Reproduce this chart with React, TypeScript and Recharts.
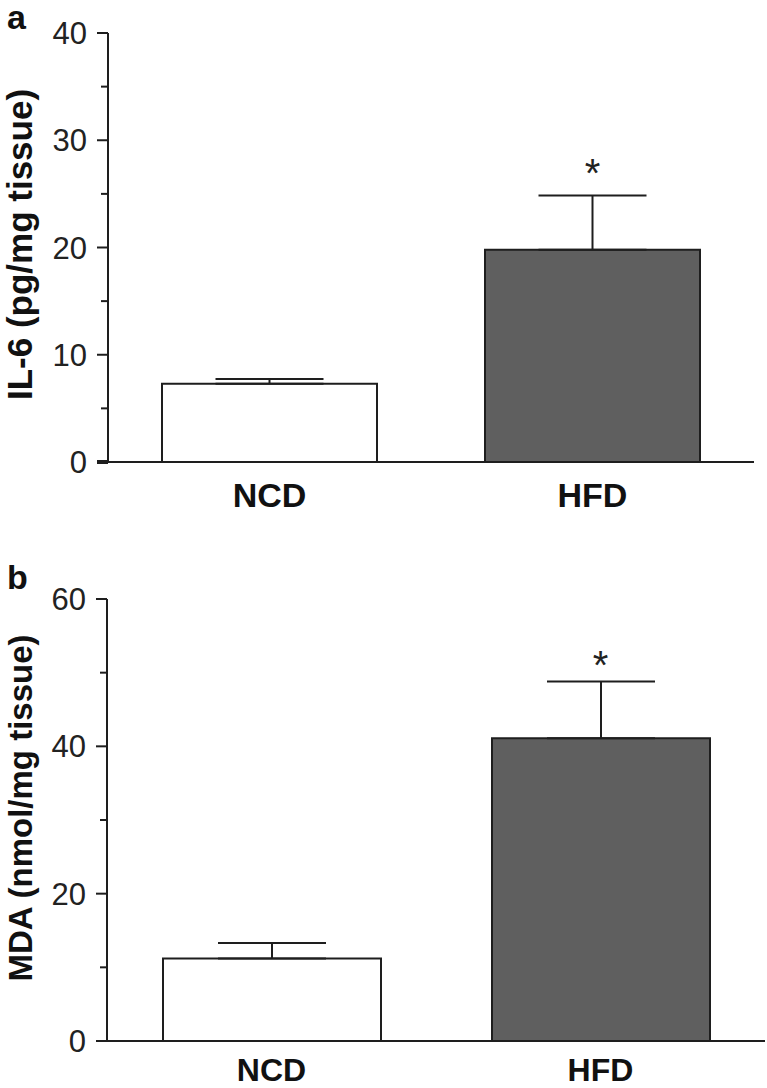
import React from "react";
import {
  BarChart,
  Bar,
  XAxis,
  YAxis,
  Cell,
  ErrorBar,
  ReferenceDot,
  Label,
} from "recharts";

const CATEGORIES = ["NCD", "HFD"];
const BAR_FILLS = ["#ffffff", "#5f5f5f"];
const SIGNIF = ["", "*"];

// panel a: IL-6 (pg/mg tissue), mean and upper error
const IL6_MEAN = [7.3, 19.8];
const IL6_ERR = [0.45, 5.05];
const IL6_TICKS = [0, 5, 10, 15, 20, 25, 30, 35, 40];
const IL6_LABELED = [0, 10, 20, 30, 40];

// panel b: MDA (nmol/mg tissue)
const MDA_MEAN = [11.2, 41.1];
const MDA_ERR = [2.1, 7.7];
const MDA_TICKS = [0, 10, 20, 30, 40, 50, 60];
const MDA_LABELED = [0, 20, 40, 60];

const FONT = "'Liberation Sans', Arial, Helvetica, sans-serif";
const INK = "#1e1e1e";

function YTick({ x, y, payload, labeled, heavyZero }: any) {
  const major = labeled.includes(payload.value);
  const heavy = heavyZero && payload.value === 0;
  return (
    <g>
      <line
        x1={x - (major ? 11 : 7)}
        x2={x}
        y1={y}
        y2={y}
        stroke={INK}
        strokeWidth={heavy ? 4 : 2}
      />
      {major && (
        <text x={x - 21} y={y + 11} textAnchor="end" fontSize={31} fontFamily={FONT} fill="#222">
          {payload.value}
        </text>
      )}
    </g>
  );
}

function XTick({ x, y, payload, dy, size }: any) {
  return (
    <text x={x} y={y + dy} textAnchor="middle" fontSize={size} fontWeight="bold" fontFamily={FONT} fill="#111">
      {payload.value}
    </text>
  );
}

interface PanelProps {
  letter: string;
  top: number;
  height: number;
  margin: { top: number; right: number; bottom: number; left: number };
  axisWidth: number;
  xAxisHeight: number;
  barSize: number;
  mean: number[];
  err: number[];
  ticks: number[];
  labeled: number[];
  yLabel: string;
  labelSize: number;
  labelDy: number;
  xLabelDy: number;
  xLabelSize: number;
  starGap: number;
  heavyZero?: boolean;
}

function Panel(p: PanelProps) {
  const data = CATEGORIES.map((c, i) => ({
    group: c,
    value: p.mean[i],
    err: [0, p.err[i]],
    sig: SIGNIF[i],
  }));
  const max = p.ticks[p.ticks.length - 1];

  return (
    <div style={{ position: "absolute", left: 0, top: p.top, width: 767, height: p.height }}>
      <div
        style={{
          position: "absolute",
          left: 7,
          top: 0,
          fontSize: 34,
          lineHeight: 1,
          fontWeight: "bold",
          fontFamily: FONT,
          color: "#111",
        }}
      >
        {p.letter}
      </div>
      <BarChart width={767} height={p.height} data={data} margin={p.margin}>
        <XAxis
          dataKey="group"
          height={p.xAxisHeight}
          tickLine={false}
          tickSize={0}
          tickMargin={0}
          axisLine={{ stroke: INK, strokeWidth: 2 }}
          tick={<XTick dy={p.xLabelDy} size={p.xLabelSize} />}
        />
        <YAxis
          width={p.axisWidth}
          domain={[0, max]}
          ticks={p.ticks}
          interval={0}
          tickLine={false}
          tickSize={0}
          tickMargin={0}
          axisLine={{ stroke: INK, strokeWidth: 2 }}
          tick={<YTick labeled={p.labeled} heavyZero={p.heavyZero} />}
        >
          <Label
            content={({ viewBox }: any) => {
              const cx = 32;
              const cy = viewBox.y + viewBox.height / 2 + p.labelDy;
              return (
                <text
                  x={cx}
                  y={cy}
                  transform={`rotate(-90, ${cx}, ${cy})`}
                  textAnchor="middle"
                  fontSize={p.labelSize}
                  fontWeight="bold"
                  fontFamily={FONT}
                  fill="#111"
                >
                  {p.yLabel}
                </text>
              );
            }}
          />
        </YAxis>
        <Bar dataKey="value" barSize={p.barSize} stroke={INK} strokeWidth={2} isAnimationActive={false}>
          {data.map((d, i) => (
            <Cell key={d.group} fill={BAR_FILLS[i]} />
          ))}
          <ErrorBar dataKey="err" direction="y" width={54} stroke={INK} strokeWidth={2} isAnimationActive={false} />
        </Bar>
        {data
          .filter((d) => d.sig)
          .map((d) => (
            <ReferenceDot
              key={d.group}
              x={d.group}
              y={d.value + d.err[1]}
              r={0}
              shape={(s: any) => (
                <text
                  x={s.cx}
                  y={s.cy - p.starGap}
                  textAnchor="middle"
                  fontSize={40}
                  fontFamily={FONT}
                  fill="#222"
                >
                  {d.sig}
                </text>
              )}
            />
          ))}
      </BarChart>
    </div>
  );
}

export default function App() {
  return (
    <div style={{ position: "absolute", left: 0, top: 0, width: 767, height: 1088, background: "#fff" }}>
      <Panel
        letter="a"
        top={0}
        height={530}
        margin={{ top: 33, right: 13, bottom: 0, left: 0 }}
        axisWidth={108}
        xAxisHeight={68}
        barSize={215}
        mean={IL6_MEAN}
        err={IL6_ERR}
        ticks={IL6_TICKS}
        labeled={IL6_LABELED}
        yLabel="IL-6 (pg/mg tissue)"
        labelSize={35}
        labelDy={-3}
        xLabelDy={45}
        xLabelSize={34}
        starGap={8}
        heavyZero
      />
      <Panel
        letter="b"
        top={560}
        height={528}
        margin={{ top: 39, right: 2, bottom: 0, left: 0 }}
        axisWidth={107}
        xAxisHeight={47}
        barSize={218}
        mean={MDA_MEAN}
        err={MDA_ERR}
        ticks={MDA_TICKS}
        labeled={MDA_LABELED}
        yLabel="MDA (nmol/mg tissue)"
        labelSize={33}
        labelDy={-12}
        xLabelDy={40}
        xLabelSize={32}
        starGap={3}
      />
    </div>
  );
}
